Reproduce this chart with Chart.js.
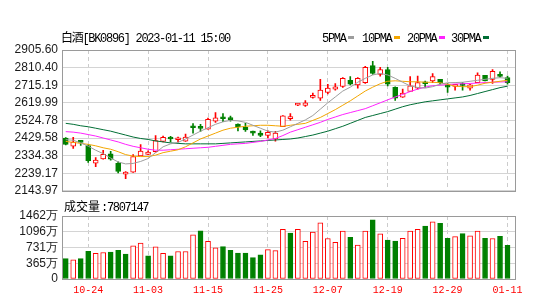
<!DOCTYPE html>
<html><head><meta charset="utf-8">
<script src="https://cdn.jsdelivr.net/npm/chart.js@4"></script>
<style>
html,body{margin:0;padding:0;background:#fff;}
#wrap{position:relative;width:538px;height:306px;overflow:hidden;background:#fff;}
canvas{position:absolute;left:0;}
#pc{top:0;}
#vc{top:196px;}
</style></head>
<body><div id="wrap"><canvas id="pc" width="538" height="202"></canvas><canvas id="vc" width="538" height="110"></canvas></div>
<script>
const dates = ['10-19','10-20','10-21','10-24','10-25','10-26','10-27','10-28','10-31','11-01','11-02','11-03','11-04','11-07','11-08','11-09','11-10','11-11','11-14','11-15','11-16','11-17','11-18','11-21','11-22','11-23','11-24','11-25','11-28','11-29','11-30','12-01','12-02','12-05','12-06','12-07','12-08','12-09','12-12','12-13','12-14','12-15','12-16','12-19','12-20','12-21','12-22','12-23','12-26','12-27','12-28','12-29','12-30','01-03','01-04','01-05','01-06','01-09','01-10','01-11'];
const open  = [2429.6,2385.7,2408.4,2388.9,2293.7,2316.9,2343.4,2292.1,2233.9,2244.5,2332.8,2341.3,2355.5,2411.1,2427.0,2420.1,2412.1,2487.8,2483.5,2477.2,2521.1,2536.4,2531.1,2505.2,2487.8,2465.0,2456.0,2443.9,2424.3,2491.5,2534.3,2607.0,2605.7,2649.1,2644.8,2676.6,2694.0,2708.3,2741.6,2716.8,2729.5,2821.0,2773.4,2799.8,2703.0,2650.1,2681.9,2699.3,2725.8,2737.9,2746.9,2707.3,2708.3,2715.2,2699.3,2729.5,2768.1,2746.9,2765.4,2755.9];
const high  = [2432.2,2433.3,2417.4,2394.2,2323.8,2362.4,2357.1,2301.1,2248.2,2339.7,2394.2,2360.8,2442.8,2440.2,2438.6,2434.9,2450.7,2507.3,2503.6,2538.0,2567.1,2561.8,2547.5,2506.3,2508.9,2466.6,2468.2,2468.2,2465.0,2551.2,2561.8,2616.5,2632.2,2672.9,2746.9,2720.5,2724.2,2755.9,2761.2,2755.9,2817.3,2843.7,2812.0,2812.0,2706.2,2694.0,2761.2,2764.4,2737.9,2778.7,2746.9,2724.2,2720.5,2729.5,2720.5,2782.4,2768.1,2799.8,2787.7,2764.4];
const low   = [2392.6,2373.0,2388.9,2297.4,2274.6,2315.0,2309.5,2240.8,2209.0,2243.0,2332.8,2339.7,2352.9,2408.4,2408.4,2406.9,2411.1,2456.0,2465.0,2477.2,2514.2,2517.9,2521.1,2468.2,2465.0,2443.9,2436.5,2429.6,2412.1,2490.4,2526.4,2605.0,2600.4,2644.8,2632.2,2667.6,2688.8,2703.0,2716.8,2699.3,2724.2,2773.4,2764.4,2711.5,2632.2,2649.1,2680.8,2694.0,2703.0,2729.5,2720.5,2676.6,2688.8,2688.8,2688.8,2728.4,2737.9,2724.2,2759.1,2720.5];
const close = [2394.2,2406.9,2405.8,2306.4,2309.5,2341.3,2314.8,2248.2,2236.5,2329.1,2359.3,2354.0,2415.3,2433.3,2424.3,2421.7,2434.9,2485.1,2481.4,2530.1,2539.1,2533.8,2529.0,2491.5,2473.5,2456.0,2443.9,2459.7,2456.0,2549.7,2536.4,2615.0,2620.0,2650.7,2688.8,2699.3,2706.2,2752.2,2720.5,2752.2,2812.0,2778.7,2799.8,2720.5,2644.8,2672.9,2711.5,2729.5,2723.1,2761.2,2729.5,2704.6,2720.5,2713.6,2716.8,2769.7,2737.9,2790.8,2762.8,2729.5];
const ma5  = [2420.6,2417.4,2403.1,2385.7,2363.5,2345.0,2321.2,2300.0,2289.4,2292.1,2302.7,2318.5,2350.3,2382.0,2397.9,2405.8,2424.3,2445.5,2466.6,2485.1,2503.6,2516.9,2524.8,2522.2,2514.2,2498.4,2482.5,2466.6,2461.3,2471.9,2490.4,2508.9,2527.4,2551.2,2585.6,2620.0,2651.7,2683.5,2704.6,2731.1,2752.2,2770.7,2778.7,2770.7,2752.2,2731.1,2711.5,2703.0,2699.3,2707.3,2720.5,2728.4,2729.5,2731.1,2736.4,2741.6,2746.9,2752.2,2755.9,2752.2];
const ma10 = [2411.1,2405.8,2400.5,2395.2,2387.3,2376.7,2368.8,2355.5,2339.7,2331.7,2329.1,2329.1,2337.0,2350.3,2358.2,2366.1,2382.0,2403.1,2424.3,2440.2,2456.0,2471.9,2482.5,2487.8,2493.1,2495.7,2498.4,2498.4,2495.7,2493.1,2498.4,2503.6,2508.9,2524.8,2540.7,2561.8,2583.0,2606.8,2630.6,2657.0,2683.5,2704.6,2723.1,2736.4,2739.0,2736.4,2733.7,2733.7,2731.1,2731.1,2728.4,2720.5,2709.9,2707.3,2707.3,2715.2,2725.8,2731.1,2736.4,2741.6];
const ma20 = [2464.0,2461.3,2456.0,2448.1,2440.2,2429.6,2419.0,2408.4,2395.2,2384.6,2376.7,2368.8,2363.5,2363.5,2366.1,2368.8,2371.4,2374.1,2376.7,2379.3,2384.6,2389.9,2395.2,2397.9,2400.5,2405.8,2411.1,2419.0,2427.0,2442.8,2461.3,2474.5,2487.8,2501.0,2514.2,2530.1,2543.3,2556.5,2567.1,2577.7,2588.3,2604.1,2620.0,2635.9,2651.7,2665.0,2680.8,2694.0,2704.6,2712.6,2715.2,2718.9,2721.5,2723.1,2724.7,2726.8,2729.5,2731.1,2732.7,2733.7];
const ma30 = [2508.9,2503.6,2495.7,2490.4,2482.5,2474.5,2466.6,2456.0,2445.5,2434.9,2427.0,2421.7,2413.7,2408.4,2403.1,2400.5,2397.9,2397.9,2397.9,2397.9,2397.9,2400.5,2403.1,2405.8,2408.4,2411.1,2413.7,2416.4,2419.0,2421.7,2424.3,2429.6,2437.5,2445.5,2456.0,2466.6,2479.8,2493.1,2508.9,2524.8,2540.7,2551.2,2561.8,2572.4,2585.6,2598.8,2609.4,2617.4,2625.3,2630.6,2635.9,2641.2,2646.4,2651.7,2659.7,2670.2,2680.8,2691.4,2702.0,2709.9];
// volume in 万
const volume = [473,445,473,645,595,616,623,666,580,767,831,537,745,595,537,638,638,1025,1118,875,724,753,666,602,602,495,559,681,660,1154,1068,1154,875,1090,1305,939,853,1111,968,789,1111,1376,1047,903,882,946,1111,1154,1226,1326,1290,946,982,1054,1004,1111,946,939,989,780.7147];
const volUp  = [0,1,0,0,1,1,0,0,0,1,1,0,1,1,0,1,1,1,0,1,1,0,0,0,0,0,0,1,1,1,0,1,1,1,1,1,1,1,0,1,1,0,1,0,0,1,1,1,0,1,0,0,1,0,1,1,0,1,0,0];
const priceTicks = [2143.97,2239.17,2334.38,2429.58,2524.78,2619.99,2715.19,2810.40,2905.60];
const volTicks = [0,365.5,731,1096.5,1462];
const volTickLabels = ['0','365万','731万','1096万','1462万'];
const xTickLabels = ['10-24','11-03','11-15','11-25','12-07','12-19','12-29','01-11'];
const titleText = '白酒[BK0896] 2023-01-11 15:00';
const volTitleText = '成交量';
const maNames = ['5PMA','10PMA','20PMA','30PMA'];
const maColors = ['#9d9d9d','#f3a600','#ff22ff','#006e35'];

const RED = '#ff0000', GREEN = '#008000';
const up = close.map((c,i)=>c>=open[i]);
const xTickIdx = xTickLabels.map(l=>dates.indexOf(l));
const xMin = -0.5, xMax = 60;
const pts = arr => arr.map((v,i)=>({x:i,y:v}));
const MONO = '"Liberation Mono", "Noto Sans CJK SC", monospace';
Chart.defaults.font.family = '"Liberation Sans", Arial, sans-serif';

const framePlugin = {
  id:'frame',
  afterDatasetsDraw(chart){
    const {ctx, chartArea:a} = chart;
    ctx.save(); ctx.strokeStyle='#9a9a9a'; ctx.lineWidth=1;
    ctx.strokeRect(Math.round(a.left)+0.5, Math.round(a.top)+0.5, Math.round(a.right-a.left), Math.round(a.bottom-a.top));
    ctx.restore();
  }
};

const headerPlugin = {
  id:'header',
  afterDraw(chart){
    const ctx = chart.ctx;
    ctx.save();
    ctx.textBaseline='alphabetic';
    ctx.font = '12px ' + MONO;
    try{ ctx.letterSpacing='-1.3px'; }catch(e){}
    ctx.fillStyle='#000';
    ctx.fillText(titleText, 61, 42);
    const legendX = [322, 362, 407, 451];
    maNames.forEach((n,k)=>{
      ctx.fillStyle='#000';
      ctx.fillText(n, legendX[k], 42);
      const w = ctx.measureText(n).width;
      ctx.fillStyle = maColors[k];
      ctx.fillRect(Math.round(legendX[k]+w+2), 36, 6, 3);
    });
    ctx.restore();
  }
};

const volHeaderPlugin = {
  id:'volheader',
  afterDraw(chart){
    const ctx = chart.ctx;
    ctx.save();
    ctx.textBaseline='alphabetic';
    ctx.fillStyle='#000';
    ctx.font='12px "Noto Sans CJK SC", sans-serif';
    ctx.fillText(volTitleText, 64, 15);
    const w = ctx.measureText(volTitleText).width;
    ctx.font='12px ' + MONO;
    try{ ctx.letterSpacing='-1.3px'; }catch(e){}
    ctx.fillText(':' + Math.round(volume[volume.length-1]*10000), 64 + w + 1, 15);
    ctx.restore();
  }
};

const xScaleBase = () => ({
  type:'linear', min:xMin, max:xMax, offset:false,
  afterBuildTicks: s => { s.ticks = xTickIdx.map(v=>({value:v})); },
  grid:{color:'#cccccc', drawTicks:false, offset:false, lineWidth:1},
  border:{display:false, dash:[4,3]}
});

new Chart(document.getElementById('pc'), {
  type:'bar',
  data:{ datasets:[
    ...maNames.map((n,k)=>({type:'line', label:n, data:pts([ma5,ma10,ma20,ma30][k]), borderColor:maColors[k], borderWidth:1, pointRadius:0, tension:0, order:k})),
    {type:'bar', label:'body', data:open.map((o,i)=>({x:i,y:[o,close[i]]})),
      backgroundColor:up.map(u=>u?'#ffffff':GREEN), borderColor:up.map(u=>u?RED:GREEN),
      borderWidth:1, borderSkipped:false, barThickness:5, minBarLength:2, grouped:false, order:10},
    {type:'bar', label:'wick', data:low.map((l,i)=>({x:i,y:[l,high[i]]})),
      backgroundColor:up.map(u=>u?RED:GREEN), borderWidth:0, barThickness:1, grouped:false, order:11}
  ]},
  options:{
    animation:false, responsive:false, devicePixelRatio:1,
    layout:{padding:{left:0,right:23,top:50,bottom:8}},
    plugins:{legend:{display:false}, tooltip:{enabled:false}},
    scales:{
      x:{...xScaleBase(), ticks:{display:false}},
      y:{type:'linear', min:priceTicks[0], max:priceTicks[priceTicks.length-1], beginAtZero:false,
        afterBuildTicks: s => { s.ticks = priceTicks.map(v=>({value:v})); },
        afterFit: s => { s.width = 62; },
        ticks:{autoSkip:false, callback:v=>Number(v).toFixed(2), color:'#1a1a1a', font:{size:12}, padding:4},
        grid:{color:'#d4d4d4', drawTicks:false, lineWidth:1},
        border:{display:false}}
    }
  },
  plugins:[framePlugin, headerPlugin]
});

new Chart(document.getElementById('vc'), {
  type:'bar',
  data:{ datasets:[{label:'volume', data:pts(volume),
    backgroundColor:volUp.map(u=>u?'#ffffff':GREEN), borderColor:volUp.map(u=>u?RED:GREEN),
    borderWidth:1, borderSkipped:false, barThickness:5, grouped:false}]},
  options:{
    animation:false, responsive:false, devicePixelRatio:1,
    layout:{padding:{left:0,right:23,top:20,bottom:5}},
    plugins:{legend:{display:false}, tooltip:{enabled:false}},
    scales:{
      x:{...xScaleBase(), ticks:{autoSkip:false, maxRotation:0, minRotation:0, color:RED, font:{family:MONO, size:10}, padding:5, callback:v=>dates[v]}},
      y:{type:'linear', min:0, max:volTicks[volTicks.length-1], beginAtZero:true,
        afterBuildTicks: s => { s.ticks = volTicks.map(v=>({value:v})); },
        afterFit: s => { s.width = 62; },
        ticks:{autoSkip:false, callback:(v,i)=>volTickLabels[i], color:'#1a1a1a', font:{size:12}, padding:4},
        grid:{color:'#d4d4d4', drawTicks:false, lineWidth:1},
        border:{display:false}}
    }
  },
  plugins:[framePlugin, volHeaderPlugin]
});
</script>
</body></html>
